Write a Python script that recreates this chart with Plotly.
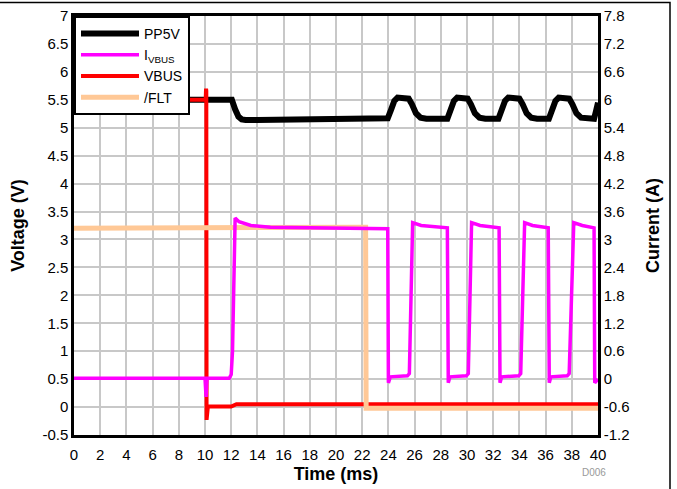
import plotly.graph_objects as go

# time axis in ms
pp5v_t = [0, 12.05, 12.3, 12.55, 12.8, 13.1, 14, 18, 23.95,
          24.2, 24.45, 24.7, 25.1, 25.55, 25.8, 26.1, 26.45, 26.9, 28.5,
          28.75, 29.0, 29.25, 29.65, 30.05, 30.3, 30.6, 30.95, 31.4, 32.4,
          32.65, 32.9, 33.15, 33.55, 34.0, 34.25, 34.55, 34.9, 35.35, 36.25,
          36.5, 36.75, 37.0, 37.4, 37.8, 38.05, 38.35, 38.7, 39.15, 39.7,
          39.85, 40]
pp5v_v = [5.5, 5.5, 5.33, 5.2, 5.15, 5.14, 5.14, 5.16, 5.17,
          5.32, 5.48, 5.54, 5.53, 5.52, 5.42, 5.26, 5.18, 5.16, 5.16,
          5.32, 5.48, 5.54, 5.53, 5.52, 5.42, 5.26, 5.18, 5.16, 5.16,
          5.32, 5.48, 5.54, 5.53, 5.52, 5.42, 5.26, 5.18, 5.16, 5.16,
          5.32, 5.48, 5.54, 5.53, 5.52, 5.42, 5.26, 5.18, 5.16, 5.16,
          5.3, 5.45]

# current in A (right axis)
ivbus_t = [0, 10.0, 10.08, 10.15, 11.85, 12.0, 12.1, 12.3, 12.6, 13.5, 15, 18, 23.95,
           24.0, 24.15, 25.45, 25.6, 25.85, 26.5, 28.5,
           28.57, 28.7, 29.95, 30.1, 30.35, 31.0, 32.45,
           32.52, 32.65, 33.95, 34.1, 34.4, 35.0, 36.2,
           36.28, 36.4, 37.65, 37.8, 38.15, 38.8, 39.7,
           39.75, 40]
ivbus_a = [0.02, 0.02, -0.38, 0.02, 0.02, 0.1, 0.6, 3.46, 3.38, 3.3, 3.26, 3.25, 3.23,
           -0.08, 0.05, 0.07, 0.12, 3.36, 3.3, 3.25,
           -0.08, 0.05, 0.07, 0.12, 3.36, 3.3, 3.25,
           -0.08, 0.05, 0.07, 0.12, 3.36, 3.3, 3.25,
           -0.08, 0.05, 0.07, 0.12, 3.36, 3.3, 3.25,
           -0.08, 0.0]

vbus_t = [0, 10.05, 10.08, 10.1, 10.12, 10.16, 10.22, 12.0, 12.4, 40]
vbus_v = [5.5, 5.5, 5.7, 5.66, -0.23, -0.08, 0.01, 0.01, 0.05, 0.05]

flt_t = [0, 22.26, 22.3, 40]
flt_v = [3.2, 3.22, -0.02, -0.02]

y_ticks = [-0.5, 0, 0.5, 1, 1.5, 2, 2.5, 3, 3.5, 4, 4.5, 5, 5.5, 6, 6.5, 7]
y_text = ["-0.5", "0", "0.5", "1", "1.5", "2", "2.5", "3", "3.5", "4",
          "4.5", "5", "5.5", "6", "6.5", "7"]
y2_ticks = [-1.2, -0.6, 0, 0.6, 1.2, 1.8, 2.4, 3, 3.6, 4.2, 4.8, 5.4, 6, 6.6, 7.2, 7.8]
y2_text = ["-1.2", "-0.6", "0", "0.6", "1.2", "1.8", "2.4", "3", "3.6", "4.2",
           "4.8", "5.4", "6", "6.6", "7.2", "7.8"]

FONT = "Arial, 'Liberation Sans', sans-serif"

fig = go.Figure()
fig.add_trace(go.Scatter(x=pp5v_t, y=pp5v_v, name="PP5V", mode="lines",
                         line=dict(color="#000000", width=6)))
fig.add_trace(go.Scatter(x=ivbus_t, y=ivbus_a, name="I<sub>VBUS</sub>", mode="lines",
                         yaxis="y2", line=dict(color="#FF00FF", width=3.5)))
fig.add_trace(go.Scatter(x=vbus_t, y=vbus_v, name="VBUS", mode="lines",
                         line=dict(color="#FF0000", width=4)))
fig.add_trace(go.Scatter(x=flt_t, y=flt_v, name="/FLT", mode="lines",
                         line=dict(color="#FFC896", width=5)))

axis_common = dict(showline=True, linecolor="black", linewidth=2.5, mirror=True,
                   zeroline=False, automargin=False,
                   tickfont=dict(family=FONT, size=15, color="black"))

fig.update_layout(
    width=677, height=489,
    margin=dict(l=74, r=79, t=16, b=54, autoexpand=False),
    paper_bgcolor="white", plot_bgcolor="white",
    font=dict(family=FONT, color="black"),
    showlegend=True,
    legend=dict(x=0, y=1, xanchor="left", yanchor="top", bgcolor="white",
                bordercolor="black", borderwidth=2, itemwidth=58,
                font=dict(family=FONT, size=14), tracegroupgap=0),
    xaxis=dict(range=[0, 40], tickmode="linear", tick0=0, dtick=2,
               ticks="outside", ticklen=4, tickcolor="rgba(0,0,0,0)",
               showgrid=True, gridcolor="#C8C8C8", gridwidth=2,
               title=dict(text="<b>Time (ms)</b>", font=dict(family=FONT, size=18), standoff=6),
               **axis_common),
    yaxis=dict(range=[-0.5, 7], tickvals=y_ticks, ticktext=y_text, ticks="",
               showgrid=True, gridcolor="#C8C8C8", gridwidth=2,
               title=dict(text="<b>Voltage (V)</b>", font=dict(family=FONT, size=18), standoff=14),
               **axis_common),
    yaxis2=dict(range=[-1.2, 7.8], tickvals=y2_ticks, ticktext=y2_text, ticks="",
                overlaying="y", side="right", showgrid=False,
                title=dict(text="<b>Current (A)</b>", font=dict(family=FONT, size=18), standoff=18),
                **axis_common),
    shapes=[dict(type="rect", xref="paper", yref="paper",
                 x0=-0.2, x1=(670 - 74) / 524, y0=-0.2, y1=(435 - 2.5) / 419,
                 line=dict(color="black", width=1.5), fillcolor="rgba(0,0,0,0)", layer="below")],
    annotations=[dict(text="D006", xref="paper", yref="paper", x=(608 - 74) / 524,
                      y=(435 - 480) / 419, showarrow=False,
                      font=dict(family=FONT, size=10, color="#999999"))],
)

# the page body has a default 8px margin; drop it so the figure sits at the window corner
fig.write_html("out.html", config={"displayModeBar": False},
               post_script="document.body.style.margin='0';")
